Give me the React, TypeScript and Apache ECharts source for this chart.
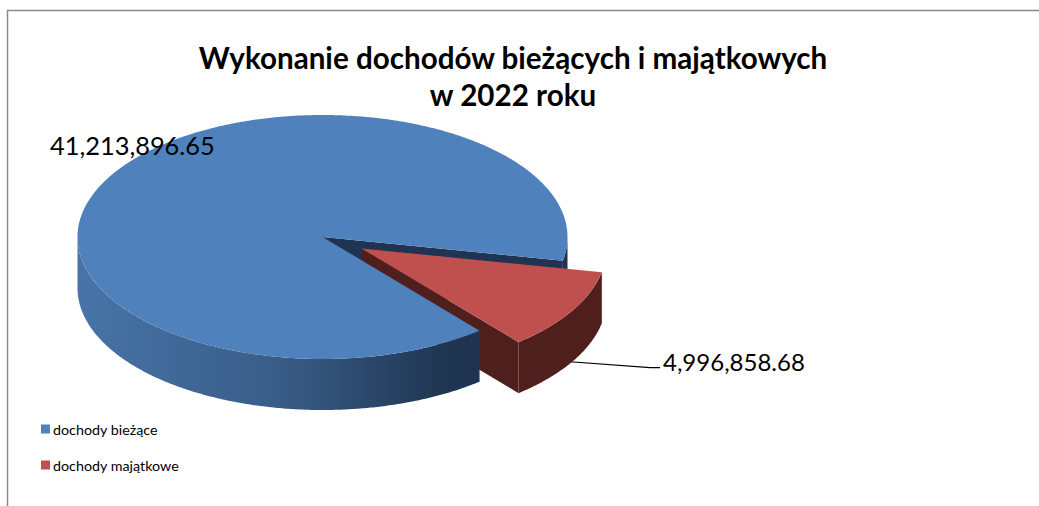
import React, { useEffect, useRef } from "react";
import * as echarts from "echarts";

const titleText = "Wykonanie dochodów bieżących i majątkowych\nw 2022 roku";
const categories = ["dochody bieżące", "dochody majątkowe"];
const values = [41213896.65, 4996858.68];
const sliceColors = ["#4f81bd", "#c0504d"];
const FONT = "Lato, Carlito, 'Open Sans', sans-serif";

const total = values[0] + values[1];
const CX = 322.5, CY = 237, RX = 245, RY = 122, DEPTH = 51, EXPLODE = 0.185;
const START = 11.2; // degrees, clockwise on screen; where the red slice starts
const RED_END = START + (values[1] / total) * 360;
const BLUE_WALL_DARK = "#1f3450";
const RED_WALL = "#4f1f1e";

const rad = (d: number) => (d * Math.PI) / 180;
const pt = (cx: number, cy: number, a: number, dy = 0): number[] => [
  cx + RX * Math.cos(rad(a)),
  cy + RY * Math.sin(rad(a)) + dy,
];
const arc = (cx: number, cy: number, a0: number, a1: number, dy = 0) => {
  const pts: number[][] = [];
  const n = Math.max(2, Math.ceil(Math.abs(a1 - a0) * 2));
  for (let i = 0; i <= n; i++) pts.push(pt(cx, cy, a0 + ((a1 - a0) * i) / n, dy));
  return pts;
};
const poly = (points: number[][], fill: any, z2: number) => ({
  type: "polygon",
  z2,
  shape: { points },
  style: { fill, stroke: null },
  silent: true,
});
const wall = (cx: number, cy: number, a0: number, a1: number, fill: any, z2: number) =>
  poly([...arc(cx, cy, a0, a1), ...arc(cx, cy, a1, a0, DEPTH)], fill, z2);
const fmt = (v: number) =>
  v.toLocaleString("en-US", { minimumFractionDigits: 2, maximumFractionDigits: 2 });

function renderBlue(_p: any, api: any) {
  const gradient = new echarts.graphic.LinearGradient(
    78, 0, 450, 0,
    [
      { offset: 0, color: "#4874a8" },
      { offset: 0.55, color: "#385c86" },
      { offset: 1, color: BLUE_WALL_DARK },
    ],
    true,
  );
  const blueSpan = (api.value(0) / total) * 360;
  const a0 = RED_END;
  const a1 = RED_END + blueSpan;
  const pS = pt(CX, CY, START);
  return {
    type: "group",
    children: [
      poly([[CX, CY], pS, [pS[0], pS[1] + DEPTH], [CX, CY + DEPTH]], BLUE_WALL_DARK, 1),
      wall(CX, CY, 0, START, BLUE_WALL_DARK, 1),
      wall(CX, CY, a0, 180, gradient, 6),
      poly([[CX, CY], ...arc(CX, CY, a0, a1)], sliceColors[0], 7),
      {
        type: "text",
        z2: 9,
        silent: true,
        style: {
          x: 50, y: 145,
          text: fmt(api.value(0)),
          fill: "#000",
          font: `25.4px ${FONT}`,
          verticalAlign: "middle",
        },
      },
    ],
  };
}

function renderRed(_p: any, api: any) {
  const mid = (START + RED_END) / 2;
  const ox = CX + RX * EXPLODE * Math.cos(rad(mid));
  const oy = CY + RY * EXPLODE * Math.sin(rad(mid));
  const pE = pt(ox, oy, RED_END);
  return {
    type: "group",
    children: [
      {
        type: "polyline",
        z2: 0,
        silent: true,
        shape: { points: [[560, 361], [650, 367.6], [660, 367.6]] },
        style: { stroke: "#000", lineWidth: 1.2, fill: null },
      },
      poly([[ox, oy], pE, [pE[0], pE[1] + DEPTH], [ox, oy + DEPTH]], RED_WALL, 3),
      wall(ox, oy, START, RED_END, RED_WALL, 4),
      poly([[ox, oy], ...arc(ox, oy, START, RED_END)], sliceColors[1], 5),
      {
        type: "text",
        z2: 9,
        silent: true,
        style: {
          x: 663, y: 361,
          text: fmt(api.value(0)),
          fill: "#000",
          font: `24px ${FONT}`,
          verticalAlign: "middle",
        },
      },
    ],
  };
}

export default function App() {
  const ref = useRef<HTMLDivElement>(null);
  useEffect(() => {
    const chart = echarts.init(ref.current!, null, { renderer: "svg" });
    chart.setOption({
      animation: false,
      backgroundColor: "#ffffff",
      title: {
        text: titleText,
        left: 508,
        top: 34,
        textAlign: "center",
        textStyle: {
          fontFamily: FONT,
          fontSize: 29.6,
          fontWeight: "bold",
          color: "#000",
          lineHeight: 37,
        },
      },
      legend: {
        orient: "vertical",
        left: 36,
        top: 417,
        itemWidth: 9,
        itemHeight: 9,
        itemGap: 22,
        icon: "rect",
        data: categories,
        textStyle: { fontFamily: FONT, fontSize: 14.3, color: "#000", padding: [0, 0, 0, -2] },
        selectedMode: false,
      },
      graphic: [
        {
          type: "polyline",
          z: 0,
          silent: true,
          shape: { points: [[7.5, 506], [7.5, 10.5], [1039, 10.5]] },
          style: { stroke: "#8a8a8a", lineWidth: 1.5, fill: null },
        },
      ],
      series: [
        {
          type: "custom",
          name: categories[0],
          coordinateSystem: "none",
          itemStyle: { color: sliceColors[0] },
          data: [[values[0]]],
          renderItem: renderBlue,
        },
        {
          type: "custom",
          name: categories[1],
          coordinateSystem: "none",
          itemStyle: { color: sliceColors[1] },
          data: [[values[1]]],
          renderItem: renderRed,
        },
      ],
    });
    return () => chart.dispose();
  }, []);
  return (
    <div
      ref={ref}
      style={{ position: "absolute", left: 0, top: 0, width: 1039, height: 506 }}
    />
  );
}
